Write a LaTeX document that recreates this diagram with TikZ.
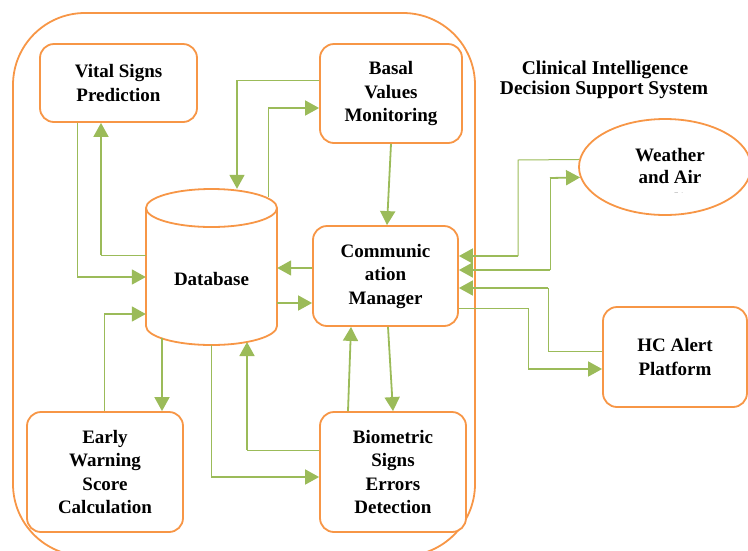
\documentclass[tikz,border=0pt]{standalone}
\usepackage{fontspec}
\setmainfont{Liberation Serif}
\usetikzlibrary{arrows.meta,shapes.geometric}
\definecolor{boxorange}{HTML}{F79646}
\definecolor{linkgreen}{HTML}{9BBB59}
\begin{document}
\begin{tikzpicture}[x=1pt,y=-1pt,
  txt/.style={font=\fontsize{19}{23.5}\selectfont\bfseries, align=center},
  box/.style={txt, draw=boxorange, line width=1.8pt, rounded corners=14pt, fill=white, inner sep=2pt},
  thinlink/.style={draw=linkgreen, line width=1pt},
  thicklink/.style={draw=linkgreen, line width=1.8pt},
  tip/.style={-{Triangle[length=14pt,width=15pt]}},
]
\useasboundingbox (0,0) rectangle (748,550);
% outer frame
\draw[boxorange, line width=1.8pt, rounded corners=72pt] (13,13) rectangle (475,556);
% boxes
\node[box, minimum width=157pt, minimum height=78pt] (vital) at (118.5,83) {Vital Signs\\Prediction};
\node[box, minimum width=142pt, minimum height=99pt] (basal) at (391,93.5) {Basal\\Values\\Monitoring};
\node[box, minimum width=145pt, minimum height=100pt] (comm) at (385.5,276) {Communic\\ation\\Manager};
\node[box, minimum width=146pt, minimum height=120pt] (bio) at (393,472) {Biometric\\Signs\\Errors\\Detection};
\node[box, minimum width=156pt, minimum height=120pt] (ews) at (105,472) {Early\\Warning\\Score\\Calculation};
\node[box, minimum width=144pt, minimum height=100pt] (hc) at (675,357) {HC Alert\\Platform};
% weather ellipse
\node[ellipse, draw=boxorange, line width=1.8pt, fill=white, minimum width=172pt, minimum height=96pt, inner sep=0pt] (weather) at (665,167) {};
\begin{scope}
  \clip (560,100) rectangle (748,192.5);
  \node[txt, anchor=base] (w1) at (670,161) {Weather};
  \node[txt, anchor=base] (w2) at (670,183.5) {and Air};
  \node[txt, anchor=base] (w3) at (670,206) {Quality};
\end{scope}
% database cylinder
\node[minimum width=131pt, minimum height=156pt, inner sep=0pt] (db) at (211.5,267) {};
\draw[boxorange, line width=1.8pt, fill=white]
  (146,208) -- (146,326) arc[start angle=180, end angle=360, x radius=65.5pt, y radius=19pt] -- (277,208);
\draw[boxorange, line width=1.8pt, fill=white] (211.5,208) ellipse [x radius=65.5pt, y radius=19pt];
\node[txt] (dblabel) at (211.5,279) {Database};
\coordinate (dbtr) at (268,197);
\coordinate (dbb1) at (162,338);
\coordinate (dbb2) at (211,345);
\coordinate (dbb3) at (247,342);
% title
\node[txt, anchor=base, font=\fontsize{19.5}{21}\selectfont\bfseries] (t1) at (605,74) {Clinical Intelligence};
\node[txt, anchor=base, font=\fontsize{19.5}{21}\selectfont\bfseries] (t2) at (604,94) {Decision Support System};
% connectors
\draw[thinlink] (vital.south -| 77,0) -- (77,277);
\draw[thicklink,tip] (77,277) -- (db.west |- 0,277);
\draw[thinlink] (db.west |- 0,255) -- (101,255);
\draw[thicklink,tip] (101,255) -- (vital.south -| 101,0);
\draw[thinlink] (basal.west |- 0,80) -- (237,80);
\draw[thicklink,tip] (237,80) -- (db.north -| 237,0);
\draw[thinlink] (dbtr) -- (268,108);
\draw[thicklink,tip] (268,108) -- (basal.west |- 0,108);
\draw[thicklink,tip] (basal.south -| 391,0) -- (comm.north -| 387,0);
\draw[thicklink,tip] (comm.west |- 0,268) -- (db.east |- 0,268);
\draw[thicklink,tip] (db.east |- 0,303) -- (comm.west |- 0,303);
\draw[thinlink] (ews.north -| 104,0) -- (104,314);
\draw[thicklink,tip] (104,314) -- (db.west |- 0,314);
\draw[thicklink,tip] (dbb1) -- (ews.north -| 162,0);
\draw[thinlink] (dbb2) -- (211,477);
\draw[thicklink,tip] (211,477) -- (bio.west |- 0,477);
\draw[thinlink] (bio.west |- 0,450) -- (247,450);
\draw[thicklink,tip] (247,450) -- (dbb3);
\draw[thicklink,tip] (bio.north -| 348,0) -- (comm.south -| 351,0);
\draw[thicklink,tip] (comm.south -| 388,0) -- (bio.north -| 393,0);
\draw[thinlink] (weather.175) -- (518,160) -- (518,256);
\draw[thicklink,tip] (518,256) -- (comm.east |- 0,256);
\draw[thicklink,tip] (550,270) -- (comm.east |- 0,270);
\draw[thinlink] (550,270) -- (550,178);
\draw[thicklink,tip] (550,178) -- (weather.187.5);
\draw[thinlink] (hc.west |- 0,351) -- (548,351) -- (548,288);
\draw[thicklink,tip] (548,288) -- (comm.east |- 0,288);
\draw[thinlink] (comm.east |- 0,308) -- (528,308) -- (528,369);
\draw[thicklink,tip] (528,369) -- (hc.west |- 0,369);
\end{tikzpicture}
\end{document}
